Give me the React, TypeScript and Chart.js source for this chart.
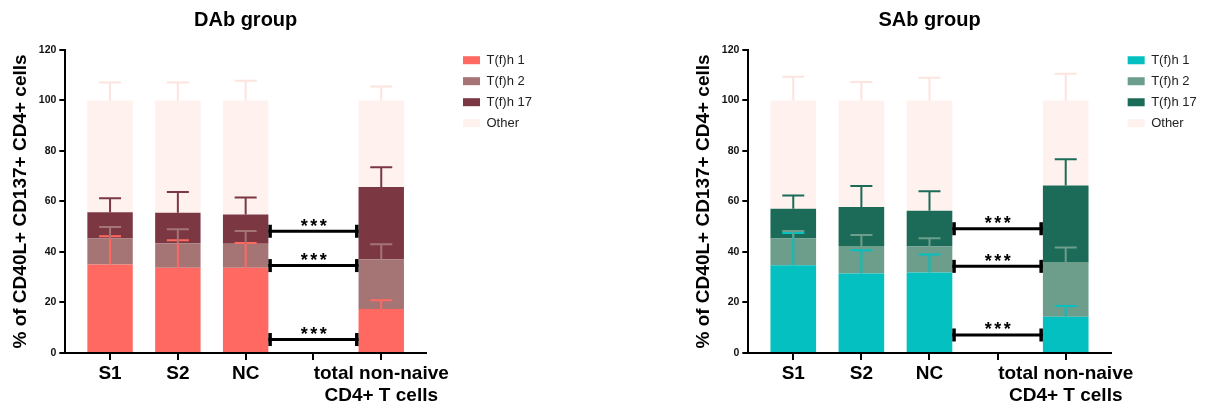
import React, { useEffect, useRef } from 'react';
import { Chart, registerables } from 'chart.js';

Chart.register(...registerables);

const FONT = 'Arial, "Liberation Sans", sans-serif';

// ---- shared labels ----
const categories: (string | string[])[] = ['S1', 'S2', 'NC', '', ['total non-naive', 'CD4+ T cells']];
const seriesNames = ['T(f)h 1', 'T(f)h 2', 'T(f)h 17', 'Other'];
const yAxisTitle = '% of CD40L+ CD137+ CD4+ cells';
const yMin = 0;
const yMax = 120;
const yStep = 20;
const significanceLabel = '***';
const bracketFromCategory = 2;
const bracketToCategory = 4;

// ---- DAb group ----
const dabTitle = 'DAb group';
const dabTfh1 = [35.0, 33.7, 33.7, null, 17.4];
const dabTfh2 = [10.3, 9.7, 9.5, null, 19.7];
const dabTfh17 = [10.4, 12.1, 11.6, null, 28.6];
const dabOther = [44.3, 44.5, 45.2, null, 34.3];
const dabTfh1Sd = [11.2, 10.9, 9.8, null, 3.5];
const dabTfh2Sd = [4.6, 5.6, 5.1, null, 5.9];
const dabTfh17Sd = [5.6, 8.2, 6.8, null, 7.9];
const dabOtherSd = [7.1, 7.1, 7.8, null, 5.5];
const dabBrackets = [48.2, 34.6, 5.3];

// ---- SAb group ----
const sabTitle = 'SAb group';
const sabTfh1 = [34.7, 31.5, 31.9, null, 14.3];
const sabTfh2 = [10.6, 10.9, 10.3, null, 21.7];
const sabTfh17 = [11.8, 15.4, 14.1, null, 30.3];
const sabOther = [42.9, 42.2, 43.7, null, 33.7];
const sabTfh1Sd = [12.8, 9.2, 7.1, null, 4.3];
const sabTfh2Sd = [3.0, 4.3, 3.2, null, 5.8];
const sabTfh17Sd = [5.3, 8.3, 7.7, null, 10.4];
const sabOtherSd = [9.4, 7.3, 9.0, null, 10.6];
const sabBrackets = [49.2, 34.3, 7.1];

// ---- colours ----
const dabColors = ['#FF6961', '#A57475', '#7B3843', '#FEF1EE'];
const dabErrColors = ['#FF6961', '#A57475', '#7B3843', '#FCE4DF'];
const sabColors = ['#05C0C0', '#6C9E8B', '#1C6B58', '#FEF1EE'];
const sabErrColors = ['#05C0C0', '#6C9E8B', '#1C6B58', '#FCE4DF'];

type Panel = {
  title: string;
  values: (number | null)[][];
  errors: (number | null)[][];
  colors: string[];
  errColors: string[];
  brackets: number[];
  left: number;
  width: number;
  gap: number;
  padRight: number;
};

const panels: Panel[] = [
  {
    title: dabTitle,
    values: [dabTfh1, dabTfh2, dabTfh17, dabOther],
    errors: [dabTfh1Sd, dabTfh2Sd, dabTfh17Sd, dabOtherSd],
    colors: dabColors,
    errColors: dabErrColors,
    brackets: dabBrackets,
    left: 0,
    width: 560,
    gap: 29,
    padRight: 18,
  },
  {
    title: sabTitle,
    values: [sabTfh1, sabTfh2, sabTfh17, sabOther],
    errors: [sabTfh1Sd, sabTfh2Sd, sabTfh17Sd, sabOtherSd],
    colors: sabColors,
    errColors: sabErrColors,
    brackets: sabBrackets,
    left: 683,
    width: 524,
    gap: 9,
    padRight: 1,
  },
];

const overlayPlugin = {
  id: 'overlay',
  afterDatasetsDraw(chart: any) {
    const ctx = chart.ctx as CanvasRenderingContext2D;
    const yScale = chart.scales.y;
    const datasets = chart.data.datasets as any[];
    const cum = new Array(categories.length).fill(0);
    ctx.save();
    // error bars
    datasets.forEach((d, di) => {
      const meta = chart.getDatasetMeta(di);
      d.data.forEach((pt: any, i: number) => {
        if (pt.y == null) return;
        cum[i] += pt.y;
        const sd = d.errors[i];
        if (sd == null) return;
        const el = meta.data[i];
        const x = el.x;
        const yTop = yScale.getPixelForValue(cum[i]);
        const yCap = yScale.getPixelForValue(cum[i] + sd);
        ctx.strokeStyle = d.errorColor;
        ctx.lineWidth = 2;
        ctx.beginPath();
        ctx.moveTo(x, yTop);
        ctx.lineTo(x, yCap);
        ctx.moveTo(x - 11, yCap);
        ctx.lineTo(x + 11, yCap);
        ctx.stroke();
      });
    });
    // significance brackets
    const meta0 = chart.getDatasetMeta(0);
    const a = meta0.data[bracketFromCategory];
    const b = meta0.data[bracketToCategory];
    const x1 = a.x + a.width / 2;
    const x2 = b.x - b.width / 2;
    const levels = chart.options.plugins.overlay.brackets as number[];
    levels.forEach((lv) => {
      const yy = yScale.getPixelForValue(lv);
      ctx.strokeStyle = '#000';
      ctx.lineWidth = 3;
      ctx.beginPath();
      ctx.moveTo(x1, yy);
      ctx.lineTo(x2, yy);
      ctx.stroke();
      ctx.fillStyle = '#000';
      ctx.fillRect(x1, yy - 6.5, 3.5, 13);
      ctx.fillRect(x2 - 3.5, yy - 6.5, 3.5, 13);
      ctx.font = `bold 18px ${FONT}`;
      (ctx as any).letterSpacing = '2.5px';
      ctx.textAlign = 'center';
      ctx.textBaseline = 'alphabetic';
      ctx.fillText(significanceLabel, (x1 + x2) / 2 + 1.5, yy + 0.5);
      (ctx as any).letterSpacing = '0px';
    });
    ctx.restore();
  },
};

function ChartPanel({ panel }: { panel: Panel }) {
  const ref = useRef<HTMLCanvasElement>(null);
  useEffect(() => {
    const datasets = seriesNames.map((name, si) => ({
      label: name,
      data: panel.values[si].map((v, i) => ({ x: i, y: v })),
      backgroundColor: panel.colors[si],
      borderWidth: 0,
      errors: panel.errors[si],
      errorColor: panel.errColors[si],
      barPercentage: 0.67,
      categoryPercentage: 1,
    }));
    const chart = new Chart(ref.current as HTMLCanvasElement, {
      type: 'bar',
      data: { datasets } as any,
      plugins: [overlayPlugin as any],
      options: {
        animation: false,
        responsive: false,
        events: [],
        layout: { padding: { left: 5, right: panel.padRight, top: 0, bottom: 2 } },
        scales: {
          x: {
            type: 'linear',
            min: -0.66,
            max: 4.66,
            offset: false,
            stacked: true,
            afterBuildTicks: (s: any) => {
              s.ticks = categories.map((_, i) => ({ value: i }));
            },
            ticks: {
              autoSkip: false,
              maxRotation: 0,
              minRotation: 0,
              padding: 3,
              color: '#000',
              font: { family: FONT, size: 19, weight: 'bold', lineHeight: 1.16 },
              callback: (v: any) => categories[Math.round(Number(v))] as any,
            },
            grid: { drawOnChartArea: false, drawTicks: true, tickLength: 7, color: '#000', lineWidth: 2, offset: false },
            border: { display: true, color: '#000', width: 2 },
          } as any,
          y: {
            min: yMin,
            max: yMax,
            stacked: true,
            ticks: {
              stepSize: yStep,
              padding: 3,
              color: '#111',
              font: { family: FONT, size: 10.5, weight: 'bold' },
            },
            grid: { drawOnChartArea: false, drawTicks: true, tickLength: 6, color: '#000', lineWidth: 2 },
            border: { display: true, color: '#000', width: 2 },
            title: {
              display: true,
              text: yAxisTitle,
              color: '#000',
              font: { family: FONT, size: 19, weight: 'bold' },
              padding: { top: 4, bottom: 4 },
            },
          },
          gap: {
            type: 'linear',
            axis: 'y',
            position: 'right',
            display: true,
            grid: { display: false },
            border: { display: false },
            ticks: { display: false },
            afterFit: (s: any) => {
              s.width = panel.gap;
            },
          } as any,
        },
        plugins: {
          title: {
            display: true,
            text: panel.title,
            fullSize: false,
            color: '#000',
            font: { family: FONT, size: 20, weight: 'bold' },
            padding: { top: 8, bottom: 18 },
          },
          legend: {
            position: 'right',
            align: 'start',
            fullSize: true,
            title: { display: true, text: '', padding: { top: 44.5, bottom: 0 }, font: { size: 1 } },
            labels: {
              boxWidth: 17,
              boxHeight: 8,
              padding: 8,
              color: '#222',
              font: { family: FONT, size: 13 },
            },
          },
          tooltip: { enabled: false },
          overlay: { brackets: panel.brackets },
        } as any,
      },
    });
    return () => chart.destroy();
  }, [panel]);
  return (
    <div style={{ position: 'absolute', left: panel.left, top: 0, width: panel.width, height: 412 }}>
      <canvas ref={ref} width={panel.width} height={412} style={{ display: 'block', width: panel.width, height: 412 }} />
    </div>
  );
}

export default function App() {
  return (
    <div style={{ position: 'absolute', left: 0, top: 0, width: 1207, height: 412, background: '#fff' }}>
      {panels.map((p) => (
        <ChartPanel key={p.title} panel={p} />
      ))}
    </div>
  );
}
